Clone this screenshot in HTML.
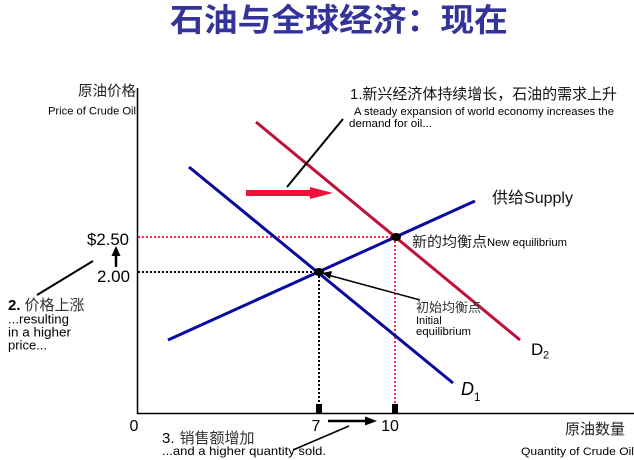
<!DOCTYPE html>
<html><head><meta charset="utf-8"><style>
html,body{margin:0;padding:0;background:#fff;}
svg{display:block;}
text{font-family:"Liberation Sans","Noto Sans CJK SC",sans-serif;}
.cjk{font-family:"Noto Sans CJK SC","Liberation Sans",sans-serif;}
</style></head><body>
<svg width="634" height="460" viewBox="0 0 634 460" xmlns="http://www.w3.org/2000/svg">
<rect width="634" height="460" fill="#fff"/>
<!-- title -->
<text x="170" y="31" class="cjk" font-size="32" font-weight="700" fill="#333399" textLength="338" lengthAdjust="spacingAndGlyphs">石油与全球经济：现在</text>

<!-- axes -->
<line x1="137.5" y1="88" x2="137.5" y2="414" stroke="#000" stroke-width="1.5"/>
<line x1="137" y1="413.5" x2="634" y2="413.5" stroke="#000" stroke-width="1.5"/>

<!-- axis labels -->
<text x="136" y="96" class="cjk" font-size="14.5" text-anchor="end" fill="#222">原油价格</text>
<text x="48" y="114.5" font-size="11" fill="#000" textLength="88" lengthAdjust="spacingAndGlyphs">Price of Crude Oil</text>
<text x="565" y="434" class="cjk" font-size="15" fill="#222">原油数量</text>
<text x="521" y="455" font-size="11" fill="#000" textLength="113" lengthAdjust="spacingAndGlyphs">Quantity of Crude Oil</text>

<!-- dotted guides -->
<line x1="138" y1="237" x2="395" y2="237" stroke="#ff2a4a" stroke-width="2" stroke-dasharray="2,2"/>
<line x1="395" y1="237" x2="395" y2="405" stroke="#ff2a4a" stroke-width="2" stroke-dasharray="2,2"/>
<line x1="138" y1="272" x2="319" y2="272" stroke="#000" stroke-width="2" stroke-dasharray="2,2"/>
<line x1="319" y1="272" x2="319" y2="405" stroke="#000" stroke-width="2" stroke-dasharray="2,2"/>
<rect x="316" y="404" width="6" height="9" fill="#000"/>
<rect x="392" y="404" width="6" height="9" fill="#000"/>

<!-- curves -->
<line x1="189" y1="167" x2="453" y2="383" stroke="#0a0aa0" stroke-width="3"/>
<line x1="256" y1="122" x2="520" y2="340" stroke="#c0103a" stroke-width="3"/>
<line x1="168" y1="340" x2="475" y2="201" stroke="#0a0aa0" stroke-width="3"/>

<!-- equilibrium dots -->
<ellipse cx="319" cy="272" rx="5" ry="4" fill="#000"/>
<ellipse cx="396" cy="237" rx="5" ry="4" fill="#000"/>

<!-- red shift arrow -->
<polygon points="246,190 310,190 310,187 333,193 310,199 310,196 246,196" fill="#f0103a"/>

<!-- annotation 1 -->
<line x1="287" y1="187" x2="343" y2="119" stroke="#000" stroke-width="2"/>
<text x="350" y="99" font-size="15" fill="#111" textLength="267" lengthAdjust="spacingAndGlyphs">1.<tspan class="cjk">新兴经济体持续增长，石油的需求上升</tspan></text>
<text x="354" y="115" font-size="11" fill="#000" textLength="260" lengthAdjust="spacingAndGlyphs">A steady expansion of world economy increases the</text>
<text x="349" y="127" font-size="11" fill="#000" textLength="83" lengthAdjust="spacingAndGlyphs">demand for oil...</text>

<!-- supply label -->
<text x="492" y="203" font-size="16" fill="#111" textLength="81" lengthAdjust="spacingAndGlyphs"><tspan class="cjk">供给</tspan>Supply</text>

<!-- new equilibrium -->
<text x="412" y="247" class="cjk" font-size="14.5" fill="#222" textLength="75" lengthAdjust="spacingAndGlyphs">新的均衡点</text>
<text x="487" y="246" font-size="11" fill="#000" textLength="80" lengthAdjust="spacingAndGlyphs">New equilibrium</text>

<!-- initial equilibrium -->
<line x1="420" y1="300" x2="328" y2="275" stroke="#000" stroke-width="1.5"/>
<polygon points="322,273 332,271 330,279" fill="#000"/>
<text x="416" y="312" class="cjk" font-size="13" fill="#333" textLength="65" lengthAdjust="spacingAndGlyphs">初始均衡点</text>
<text x="416" y="324" font-size="11" fill="#000">Initial</text>
<text x="416" y="335" font-size="11" fill="#000" textLength="55" lengthAdjust="spacingAndGlyphs">equilibrium</text>

<!-- D labels -->
<text x="531" y="355" font-size="17" fill="#000">D</text>
<text x="543" y="358.5" font-size="11" fill="#000">2</text>
<text x="461" y="395" font-size="18" font-style="italic" fill="#000">D</text>
<text x="474" y="401" font-size="11.5" fill="#000">1</text>

<!-- price labels -->
<text x="87" y="245" font-size="17" fill="#000" textLength="42" lengthAdjust="spacingAndGlyphs">$2.50</text>
<text x="97" y="282" font-size="17" fill="#000" textLength="33" lengthAdjust="spacingAndGlyphs">2.00</text>
<line x1="116" y1="267" x2="116" y2="253" stroke="#000" stroke-width="2.5"/>
<polygon points="111.5,256 116,246 120.5,256" fill="#000"/>

<!-- annotation 2 -->
<line x1="37" y1="295" x2="93" y2="261" stroke="#000" stroke-width="2"/>
<text x="8" y="310" font-size="15" fill="#000"><tspan font-weight="700">2.</tspan><tspan class="cjk" fill="#333" dx="4">价格上涨</tspan></text>
<text x="8" y="323.5" font-size="13" fill="#000" textLength="61" lengthAdjust="spacingAndGlyphs">...resulting</text>
<text x="8" y="336.5" font-size="13" fill="#000" textLength="63" lengthAdjust="spacingAndGlyphs">in a higher</text>
<text x="8" y="349.5" font-size="13" fill="#000">price...</text>

<!-- x tick labels -->
<text x="134" y="431" font-size="16" fill="#000" text-anchor="middle">0</text>
<text x="316" y="431" font-size="16" fill="#000" text-anchor="middle">7</text>
<text x="390" y="431" font-size="16" fill="#000" text-anchor="middle">10</text>

<!-- annotation 3 -->
<line x1="328" y1="421" x2="367" y2="421" stroke="#000" stroke-width="2.5"/>
<polygon points="365,416.5 377,421 365,425.5" fill="#000"/>
<line x1="349" y1="426" x2="293" y2="450" stroke="#000" stroke-width="1.5"/>
<text x="162" y="443" font-size="15" fill="#000">3.<tspan class="cjk" fill="#333" dx="5">销售额增加</tspan></text>
<text x="162" y="455" font-size="12" fill="#000" textLength="164" lengthAdjust="spacingAndGlyphs">...and a higher quantity sold.</text>
</svg>
</body></html>
